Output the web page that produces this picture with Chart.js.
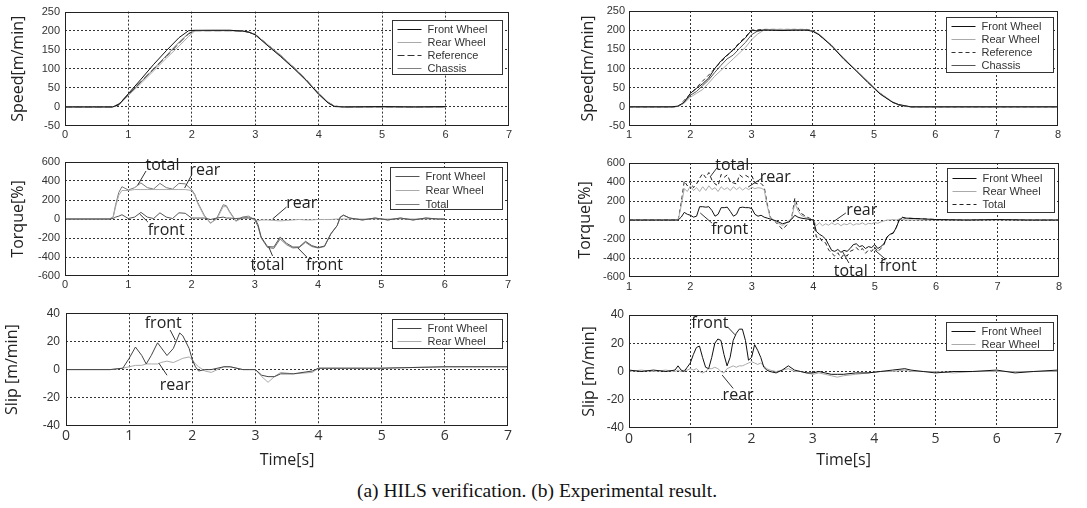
<!DOCTYPE html>
<html><head><meta charset="utf-8">
<script src="https://cdn.jsdelivr.net/npm/chart.js@4/dist/chart.umd.min.js"></script>
<style>
html,body{margin:0;padding:0;background:#fff;width:1087px;height:508px;overflow:hidden}
.c{position:absolute}
#cap{position:absolute;left:0;width:1074px;top:480px;text-align:center;font:19.5px "Liberation Serif",serif;color:#111;white-space:nowrap}
</style></head><body>
<div class="c" style="left:0;top:0"><canvas id="c1" width="530" height="150"></canvas></div>
<div class="c" style="left:0;top:150px"><canvas id="c2" width="530" height="150"></canvas></div>
<div class="c" style="left:0;top:300px"><canvas id="c3" width="530" height="175"></canvas></div>
<div class="c" style="left:540px;top:0"><canvas id="c4" width="547" height="150"></canvas></div>
<div class="c" style="left:540px;top:150px"><canvas id="c5" width="547" height="150"></canvas></div>
<div class="c" style="left:540px;top:300px"><canvas id="c6" width="547" height="175"></canvas></div>
<div id="cap">(a) HILS verification. (b) Experimental result.</div>
<script>
// ---------------- DATA ----------------
// (a) HILS speed
const tSpeedA = [0,0.5,0.75,0.85,1.0,1.2,1.4,1.6,1.8,1.95,2.05,2.3,2.6,2.8,2.9,3.0,3.2,3.4,3.6,3.8,4.0,4.15,4.25,4.4,5.0,5.5,6.0];
const speedA_front = [0,0,0,6,35,73,112,148,182,200,201,201,201,199,196,189,160,132,102,70,33,10,1,0,1,0,1];
const speedA_rear  = [0,0,0,5,30,62,95,128,160,185,200,201,201,199,196,190,163,136,105,72,36,13,2,0,0,0,0];
const speedA_ref   = [0,0,0,8,33,67,100,133,167,192,200,200,200,199,196,190,163,135,105,72,35,12,2,0,0,0,0];
const speedA_chas  = [0,0,0,5,32,66,100,135,170,193,200,200,200,199,196,190,162,134,104,71,34,12,2,0,0,0,0];
// (a) HILS torque
const tTorqueA = [0,0.7,0.76,0.8,0.85,0.9,1.0,1.1,1.2,1.3,1.4,1.5,1.6,1.7,1.8,1.9,2.0,2.05,2.1,2.2,2.3,2.4,2.5,2.55,2.6,2.7,2.8,2.9,3.0,3.05,3.1,3.2,3.3,3.4,3.5,3.6,3.7,3.8,3.9,4.0,4.1,4.2,4.3,4.35,4.4,4.5,4.7,4.9,5.1,5.3,5.5,5.7,5.9,6.0];
const torqueA_front = [0,0,5,20,30,45,5,20,70,20, 5,65,20,5,65,60,10,10,10,10, -5,10,20,10,10,5,10,10,5,-60, -190,-290,-295,-190,-255,-295,-295,-235,-280,-300, -285,-155,-70,20,40,10,-10,10,-10,10, -10,10,0,0];
const torqueA_rear  = [0,0,15,130,250,300,300,310,310,310, 310,310,310,310,310,310,300,250,160,30, -40,0,130,130,70,-25,10,20,-15,-20, -10,-10,-15,-20,-15,-10,-5,-10,-10,-5, -5,-5,0,0,0,0,0,0,0,0, 0,0,0,0];
const torqueA_total = [0,0,20,150,280,340,305,330,380,330, 315,375,330,315,375,370,310,260,170,40, -45,10,150,140,80,-20,20,30,-10,-80, -200,-300,-310,-210,-270,-305,-300,-245,-290,-305, -290,-160,-70,20,40,10,-10,10,-10,10, -10,10,0,0];
// (a) HILS slip
const tSlipA = [0,0.7,0.9,1.0,1.1,1.2,1.27,1.35,1.45,1.5,1.6,1.7,1.8,1.85,1.95,2.0,2.05,2.1,2.2,2.3,2.5,2.6,2.8,2.9,3.0,3.1,3.2,3.3,3.4,3.6,3.9,4.0,5.0,6.0,7.0];
const slipA_front = [0,0,1,8,16,10,4,10,19,16, 10,15,26,24,15,7,2,-1,0,0, 2,2,0,0,0,-4,-5,-5,-3,-3, -1,1,1,2,2];
const slipA_rear  = [0,0,1,2,3,3,4,4,4,5, 6,5,7,8,9,7,4,2,-1,-2, 2,2,0,0,0,-5,-9,-5,-2,-3, -2,1,1,2,2];
// (b) Experimental speed
const tSpeedB = [1,1.7,1.8,1.9,2.0,2.1,2.2,2.3,2.4,2.5,2.6,2.7,2.8,2.9,3.0,3.1,3.2,3.3,3.5,3.7,3.9,4.0,4.1,4.3,4.5,4.7,4.9,5.1,5.3,5.4,5.5,5.6,6,7,8];
const speedB_front = [0,0,2,12,35,48,60,75,100,120, 135,148,165,180,200,198,200,200,199,200, 200,197,188,160,125,95,63,33,12,6, 3,0,0,0,0];
const speedB_rear  = [0,0,1,10,25,35,45,62,80,95, 110,125,140,155,175,190,200,202,202,202, 201,198,190,162,128,97,66,36,13,6, 2,0,0,0,0];
const speedB_ref   = [0,0,0,17,33,50,67,83,100,117, 133,150,167,183,200,201,202,202,202,202, 202,198,188,160,128,97,65,35,12,5, 1,0,0,0,0];
const speedB_chas  = [0,0,1,10,30,40,55,70,90,108, 125,135,152,168,188,198,201,201,201,201, 201,198,189,161,127,96,65,35,12,5, 2,0,0,0,0];
// (b) Experimental torque
const tTorqueB = [1,1.5,1.8,1.85,1.9,1.95,2.0,2.05,2.1,2.15,2.2,2.25,2.3,2.35,2.4,2.45,2.5,2.55,2.6,2.65,2.7,2.75,2.8,2.85,2.9,2.95,3.0,3.05,3.1,3.15,3.2,3.25,3.3,3.4,3.5,3.6,3.65,3.7,3.75,3.8,3.9,4.0,4.05,4.1,4.15,4.2,4.25,4.3,4.35,4.4,4.45,4.5,4.55,4.6,4.65,4.7,4.75,4.8,4.85,4.9,4.95,5.0,5.05,5.1,5.15,5.2,5.25,5.3,5.35,5.4,5.45,5.5,6,6.5,7,7.5,8];
const torqueB_front = [0,0,0,30,80,60,50,30,40,140,140,135,140,100,40,60,130,130,135,90,40,60,130,135,130,130,120,60,40,50,30,20,10, -10,-40,-20,10,50,30,20,10,0, -120,-150,-170,-200,-260,-320,-330,-310,-340,-320,-330,-300,-260,-250,-280,-270,-300,-280,-290,-260,-300,-280,-250,-180,-150,-140,-80,0,25,20, 5,0,5,0,0];
const torqueB_rear  = [0,0,0,150,330,300,360,310,340,300,350,310,360,320,340,300,350,320,340,310,350,320,345,315,340,320,345,330,340,335,320,150,20, -20,-60,-10,20,180,100,50,20,0, -60,-30,-60,-40,-55,-30,-50,-35,-60,-40,-50,-30,-55,-40,-45,-30,-50,-35,-40,-25,-35,-20,-10,0,0,5,0,10,5,0, 0,0,0,0,0];
const torqueB_total = [0,0,0,180,410,360,410,340,380,440,490,445,500,420,380,360,480,450,475,400,390,380,475,450,470,450,465,390,380,385,350,170,30, -30,-100,-30,30,230,130,70,30,0, -180,-180,-230,-240,-315,-350,-380,-345,-400,-360,-380,-330,-315,-290,-325,-300,-350,-315,-330,-285,-335,-300,-260,-180,-150,-135,-80,10,30,20, 5,0,5,0,0];
// (b) Experimental slip
const tSlipB = [0,0.2,0.4,0.6,0.75,0.8,0.85,0.9,0.95,1.0,1.05,1.1,1.15,1.2,1.25,1.3,1.35,1.4,1.45,1.5,1.55,1.6,1.65,1.7,1.75,1.8,1.85,1.9,1.95,2.0,2.05,2.1,2.15,2.2,2.25,2.3,2.4,2.5,2.6,2.7,2.8,2.9,3.0,3.1,3.2,3.3,3.4,3.5,3.7,3.9,4.1,4.3,4.5,4.6,4.8,5.0,5.3,5.6,6.0,6.3,6.6,7.0];
const slipB_front = [1,0,1,0, 1,4,1,0,3,6,12,17,18,10,3,2,10,20,23,22,12,4,10,22,27,30,30,22,8,10,19,15,10,3,1,0, -1,1,4,1,0,-1,-1,0,-1,-2,-2,-2, -1,-1,0,1,2,1,0,-1,0,0,1,-1,0,1];
const slipB_rear  = [0,1,0,1, 0,1,0,1,1,2,1,2,0,-1,0,2,2,3,2,0,-1,2,3,4,3,4,4,5,6,7,6,5,6,4,2,1, 0,1,2,0,0,-1,-2,-1,-2,-3,-4,-3, -2,-1,0,0,1,0,0,0,-1,0,0,0,0,0];
// axis ticks
const speedTicks = {min:-50, max:250, step:50};
const torqueTicks = {min:-600, max:600, step:200};
const slipTicks = {min:-40, max:40, step:20};

// ---------------- RENDERING ----------------
function pts(t, v){ return t.map((x,i)=>({x:x, y:v[i]})); }
function ds(label, t, v, color, dash, width){
  return {label:label, data:pts(t,v), borderColor:color, borderWidth:width||1, borderDash:dash||[],
          pointRadius:0, fill:false, tension:0};
}

const deco = {
  id:'deco',
  afterDatasetsDraw(chart){
    const o = chart.options.plugins.deco, a = chart.chartArea, ctx = chart.ctx;
    const xs = chart.scales.x, ys = chart.scales.y;
    ctx.save();
    // frame
    ctx.strokeStyle = '#222'; ctx.lineWidth = 1; ctx.setLineDash([]);
    ctx.strokeRect(Math.round(a.left)+0.5, Math.round(a.top)+0.5, Math.round(a.right-a.left)-1, Math.round(a.bottom-a.top)-1);
    // annotations
    ctx.font = '16px "Open Sans"'; ctx.fillStyle = '#222'; ctx.textAlign='center'; ctx.textBaseline='middle';
    (o.notes||[]).forEach(n=>{
      ctx.strokeStyle = '#333'; ctx.lineWidth = 1;
      ctx.beginPath();
      ctx.moveTo(xs.getPixelForValue(n[3]), ys.getPixelForValue(n[4]));
      ctx.lineTo(xs.getPixelForValue(n[5]), ys.getPixelForValue(n[6]));
      ctx.stroke();
      ctx.fillText(n[0], xs.getPixelForValue(n[1]), ys.getPixelForValue(n[2]));
    });
    // legend box
    const L = o.legend;
    const dsets = chart.data.datasets;
    const bx = Math.round(a.right - L.right - L.w)+0.5, by = Math.round(a.top + L.top)+0.5;
    const bh = L.h;
    ctx.fillStyle = '#fff'; ctx.fillRect(bx, by, L.w, bh);
    ctx.strokeStyle = '#333'; ctx.lineWidth = 1; ctx.setLineDash([]);
    ctx.strokeRect(bx, by, L.w, bh);
    ctx.font = '11px "Liberation Sans"'; ctx.textAlign='left'; ctx.textBaseline='middle';
    dsets.forEach((d,i)=>{
      const yy = Math.round(by + L.first + i*L.row)+0.5;
      ctx.strokeStyle = d.borderColor; ctx.lineWidth = d.borderWidth; ctx.setLineDash(d.borderDash||[]);
      ctx.beginPath(); ctx.moveTo(bx+5, yy); ctx.lineTo(bx+29, yy); ctx.stroke();
      ctx.fillStyle = '#333'; ctx.fillText(d.label, bx+35, yy);
    });
    ctx.restore();
  }
};

function makeChart(id, p){
  const tk = p.ticks;
  const gridColor = c => (c.tick && (c.tick.value===c.scale.min || c.tick.value===c.scale.max)) ? 'rgba(0,0,0,0)' : '#333';
  new Chart(document.getElementById(id), {
    type:'line',
    data:{datasets:p.datasets},
    options:{
      responsive:false, animation:false, events:[],
      layout:{padding:{left:0, top:p.area[1]-p.top, right:p.left+p.w-p.area[2], bottom:0}},
      plugins:{legend:{display:false}, tooltip:{enabled:false}, deco:{legend:p.legend, notes:p.notes}},
      scales:{
        x:{type:'linear', min:p.xmin, max:p.xmax,
           ticks:{stepSize:1, autoSkip:false, maxRotation:0, color:'#333', padding:p.xpad,
                  font:{family:p.xfont, size:p.xsize}},
           grid:{drawTicks:false, color:gridColor, lineWidth:1},
           border:{display:false, dash:[2,2]},
           title:p.xtitle ? {display:true, text:p.xtitle, color:'#222', font:{family:'Open Sans', size:16}, padding:{top:0,bottom:p.xtpad}} : {display:false},
           afterFit:s=>{ s.height = p.top + p.h - p.area[3]; }},
        y:{type:'linear', min:tk.min, max:tk.max,
           ticks:{stepSize:tk.step, color:'#333', padding:p.ypad, font:{family:'Liberation Sans', size:p.ysize},
                  callback:v=>String(v)},
           grid:{drawTicks:false, color:gridColor, lineWidth:1},
           border:{display:false, dash:[2,2]},
           title:{display:true, text:p.ytitle, color:'#222', font:{family:'Open Sans', size:16}, padding:{top:p.ytpad, bottom:0}},
           afterFit:s=>{ s.width = p.area[0] - p.left; }}
      }
    },
    plugins:[deco]
  });
}

const cFront='#111', cRear='#aaa', cRef='#333', cChas='#808080';

makeChart('c1', {left:0, top:0, w:530, h:150, area:[65,9,509,126], xmin:0, xmax:7, ticks:speedTicks,
  xfont:'Liberation Sans', xsize:11, xpad:2, ysize:11, ypad:5, ytitle:'Speed[m/min]', ytpad:9,
  legend:{right:7, top:8, w:110, h:54, first:8, row:13},
  datasets:[ds('Front Wheel',tSpeedA,speedA_front,cFront), ds('Rear Wheel',tSpeedA,speedA_rear,cRear),
            ds('Reference',tSpeedA,speedA_ref,cRef,[7,3]), ds('Chassis',tSpeedA,speedA_chas,cChas)]});

makeChart('c2', {left:0, top:150, w:530, h:150, area:[65,162,508,276], xmin:0, xmax:7, ticks:torqueTicks,
  xfont:'Liberation Sans', xsize:11, xpad:2, ysize:11, ypad:5, ytitle:'Torque[%]', ytpad:9,
  legend:{right:6, top:5, w:112, h:42, first:8, row:14},
  notes:[['total',1.54,568,1.28,505,1.15,358],['rear',2.21,516,2.0,463,1.89,326],['rear',3.74,168,3.5,126,3.28,0],
         ['front',1.6,-116,1.31,-32,1.18,53],['total',3.2,-484,3.28,-389,3.22,-295],['front',4.1,-484,3.82,-400,3.68,-305]],
  datasets:[ds('Front Wheel',tTorqueA,torqueA_front,'#555'), ds('Rear Wheel',tTorqueA,torqueA_rear,cRear),
            ds('Total',tTorqueA,torqueA_total,'#777')]});

makeChart('c3', {left:0, top:300, w:530, h:175, area:[66,313,508,426], xmin:0, xmax:7, ticks:slipTicks,
  xfont:'Open Sans', xsize:14, xpad:2, ysize:12, ypad:6, ytitle:'Slip [m/min]', ytpad:3, xtitle:'Time[s]', xtpad:5,
  legend:{right:6, top:6, w:110, h:29, first:8, row:13},
  notes:[['front',1.54,33,1.65,28,1.73,21],['rear',1.73,-11,1.6,-4,1.47,4.6]],
  datasets:[ds('Front Wheel',tSlipA,slipA_front,'#444'), ds('Rear Wheel',tSlipA,slipA_rear,cRear)]});

makeChart('c4', {left:540, top:0, w:547, h:150, area:[629,11,1058,126], xmin:1, xmax:8, ticks:speedTicks,
  xfont:'Liberation Sans', xsize:11, xpad:2, ysize:11, ypad:4, ytitle:'Speed[m/min]', ytpad:39,
  legend:{right:5, top:6, w:107, h:55, first:8, row:13},
  datasets:[ds('Front Wheel',tSpeedB,speedB_front,cFront), ds('Rear Wheel',tSpeedB,speedB_rear,cRear),
            ds('Reference',tSpeedB,speedB_ref,cRef,[4,3]), ds('Chassis',tSpeedB,speedB_chas,'#555')]});

makeChart('c5', {left:540, top:150, w:547, h:150, area:[629,163,1059,277], xmin:1, xmax:8, ticks:torqueTicks,
  xfont:'Liberation Sans', xsize:11, xpad:3, ysize:11, ypad:4, ytitle:'Torque[%]', ytpad:36,
  legend:{right:5, top:5, w:107, h:44, first:9, row:13},
  notes:[['total',2.68,579,2.43,547,2.32,453],['rear',3.38,453,3.17,442,2.94,347],['front',2.64,-95,2.35,-32,2.16,74],
         ['rear',4.79,105,4.53,74,4.32,-21],['total',4.61,-537,4.58,-453,4.48,-337],['front',5.38,-484,5.17,-410,5.0,-316]],
  datasets:[ds('Front Wheel',tTorqueB,torqueB_front,cFront), ds('Rear Wheel',tTorqueB,torqueB_rear,cRear),
            ds('Total',tTorqueB,torqueB_total,'#222',[4,3])]});

makeChart('c6', {left:540, top:300, w:547, h:175, area:[629,315,1058,428], xmin:0, xmax:7, ticks:slipTicks,
  xfont:'Open Sans', xsize:14, xpad:3, ysize:12, ypad:5, ytitle:'Slip [m/min]', ytpad:40, xtitle:'Time[s]', xtpad:5,
  legend:{right:5, top:7, w:107, h:28, first:8, row:13},
  notes:[['front',1.32,34,1.61,31.5,1.73,26],['rear',1.78,-17,1.7,-12,1.52,-2.5]],
  datasets:[ds('Front Wheel',tSlipB,slipB_front,cFront), ds('Rear Wheel',tSlipB,slipB_rear,cRear)]});
</script>
</body></html>
